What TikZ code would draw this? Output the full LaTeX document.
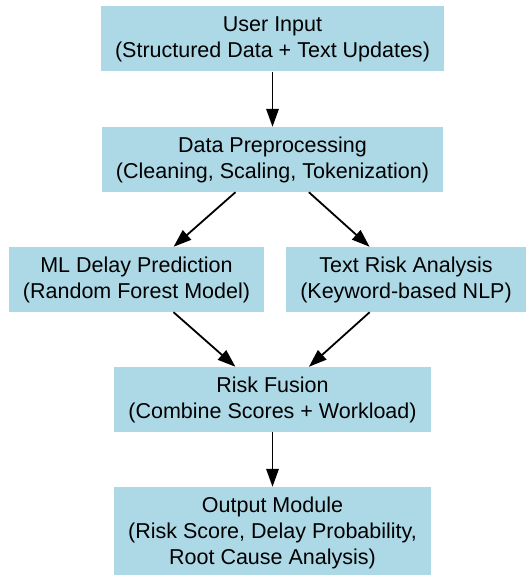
\documentclass[tikz,border=0pt]{standalone}
\usepackage{fontspec}
\setmainfont{Liberation Sans}
\usepackage{tikz}
\usetikzlibrary{arrows.meta, positioning}
\definecolor{boxblue}{HTML}{ADD8E6}
\tikzset{
    stage/.style={rectangle, minimum height=65pt, inner xsep=14pt, inner ysep=0pt, align=center, fill=boxblue, font=\fontsize{21.5}{26}\selectfont},
    arrow/.style={line width=1.8pt, -{Triangle[length=18pt,width=12.5pt]}},
}

\begin{document}
\begin{tikzpicture}[x=1pt,y=-1pt]
  \useasboundingbox (0,0) rectangle (525,575);

  \node[stage] (input)  at (272.5,39)    {User Input\\(Structured Data + Text Updates)};
  \node[stage] (prep)   at (272.5,159.5) {Data Preprocessing\\(Cleaning, Scaling, Tokenization)};
  \node[stage] (ml)     at (136.5,279.5) {ML Delay Prediction\\(Random Forest Model)};
  \node[stage] (txt)    at (406,279.5)   {Text Risk Analysis\\(Keyword-based NLP)};
  \node[stage] (fusion) at (272.5,399.5) {Risk Fusion\\(Combine Scores + Workload)};
  \node[stage, minimum height=91pt] (out) at (272.5,532.5) {Output Module\\(Risk Score, Delay Probability,\\Root Cause Analysis)};

  \draw[arrow] (input)  -- (prep);
  \draw[arrow] (prep)   -- (ml);
  \draw[arrow] (prep)   -- (txt);
  \draw[arrow] (ml)     -- (fusion);
  \draw[arrow] (txt)    -- (fusion);
  \draw[arrow] (fusion) -- (out);
\end{tikzpicture}
\end{document}
